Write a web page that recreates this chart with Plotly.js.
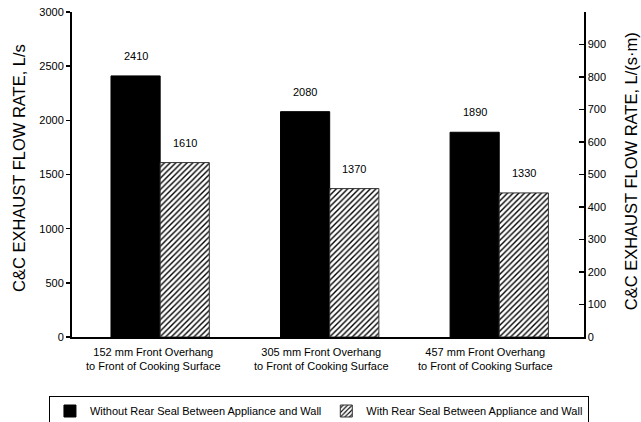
<!DOCTYPE html>
<html>
<head>
<meta charset="utf-8">
<script src="https://cdn.plot.ly/plotly-3.0.1.min.js"></script>
<style>html,body{margin:0;padding:0;background:#fff;}#chart{width:641px;height:422px;}</style>
</head>
<body>
<div id="chart"></div>
<script>
var categoryLabels = [
  "152 mm Front Overhang<br>to Front of Cooking Surface",
  "305 mm Front Overhang<br>to Front of Cooking Surface",
  "457 mm Front Overhang<br>to Front of Cooking Surface"
];
var categoryPos = [0, 1, 2];
var withoutSeal = [2410, 2080, 1890];
var withSeal = [1610, 1370, 1330];
var seriesNames = ["Without Rear Seal Between Appliance and Wall", "With Rear Seal Between Appliance and Wall"];
var leftTicks = [0, 500, 1000, 1500, 2000, 2500, 3000];
var rightTicks = [0, 100, 200, 300, 400, 500, 600, 700, 800, 900];

var F = "Arial, 'Liberation Sans', sans-serif";
var barW = 0.29;
var traces = [
  {type: "bar", name: seriesNames[0], x: categoryPos.map(function(v){return v - barW/2;}), y: withoutSeal, width: barW,
   marker: {color: "#000", line: {color: "#000", width: 1}}, hoverinfo: "skip"},
  {type: "bar", name: seriesNames[1], x: categoryPos.map(function(v){return v + barW/2;}), y: withSeal, width: barW,
   marker: {color: "#fff", line: {color: "#333", width: 1},
            pattern: {shape: "/", size: 4, solidity: 0.35, fgcolor: "#000", bgcolor: "#fff"}}, hoverinfo: "skip"},
  {type: "scatter", x: [0], y: [0], yaxis: "y2", mode: "none", showlegend: false, hoverinfo: "skip"}
];

var annotations = [];
function addValues(xs, ys, off) {
  for (var i = 0; i < xs.length; i++) {
    annotations.push({x: xs[i] + off, y: ys[i], xref: "x", yref: "y", text: String(ys[i]), showarrow: false,
      yanchor: "middle", yshift: 20, font: {family: F, size: 11, color: "#000000"}});
  }
}
addValues(categoryPos, withoutSeal, -barW/2);
addValues(categoryPos, withSeal, barW/2);
var labelShift = [-0.04, -0.05, -0.08];
for (var i = 0; i < categoryLabels.length; i++) {
  annotations.push({x: categoryPos[i] + labelShift[i], y: 0, xref: "x", yref: "paper", text: categoryLabels[i], showarrow: false,
    yanchor: "top", yshift: -7, font: {family: F, size: 11, color: "#000000"}});
}
annotations.push({x: 0, xref: "paper", xanchor: "center", xshift: -53, y: 0.52, yref: "paper", textangle: -90,
  text: "C&C EXHAUST FLOW RATE, L/s", showarrow: false, font: {family: F, size: 16.5, color: "#000000"}});
annotations.push({x: 1, xref: "paper", xanchor: "center", xshift: 47, y: 0.51, yref: "paper", textangle: -90,
  text: "C&C EXHAUST FLOW RATE, L/(s·m)", showarrow: false, font: {family: F, size: 16.5, color: "#000000"}});

var layout = {
  width: 641, height: 422,
  margin: {l: 72, r: 57, t: 12, b: 85, autoexpand: false},
  paper_bgcolor: "#fff", plot_bgcolor: "#fff",
  font: {family: F, size: 11, color: "#000"},
  showlegend: true,
  legend: {orientation: "h", x: -0.045, xanchor: "left", y: -0.18, yanchor: "top",
           bordercolor: "#000", borderwidth: 1, font: {family: F, size: 11, color: "#000"},
           traceorder: "normal", itemwidth: 30, bgcolor: "#fff"},
  xaxis: {range: [-0.52, 2.5], showgrid: false, zeroline: false, showticklabels: false, ticks: "",
          showline: true, linecolor: "#000", linewidth: 2, fixedrange: true},
  yaxis: {range: [0, 3000], tickvals: leftTicks, ticks: "outside", ticklen: 4, tickwidth: 1.5, tickcolor: "#000",
          showgrid: false, zeroline: false, showline: true, linecolor: "#000", linewidth: 2,
          tickfont: {family: F, size: 11}},
  yaxis2: {range: [0, 1000], overlaying: "y", side: "right", tickvals: rightTicks, ticks: "inside", ticklen: 5,
           tickwidth: 1.5, tickcolor: "#000", showgrid: false, zeroline: false, showline: true, linecolor: "#000",
           linewidth: 1.5, tickfont: {family: F, size: 11}},
  bargap: 0, annotations: annotations
};
Plotly.newPlot("chart", traces, layout, {displayModeBar: false, staticPlot: true});
</script>
</body>
</html>
